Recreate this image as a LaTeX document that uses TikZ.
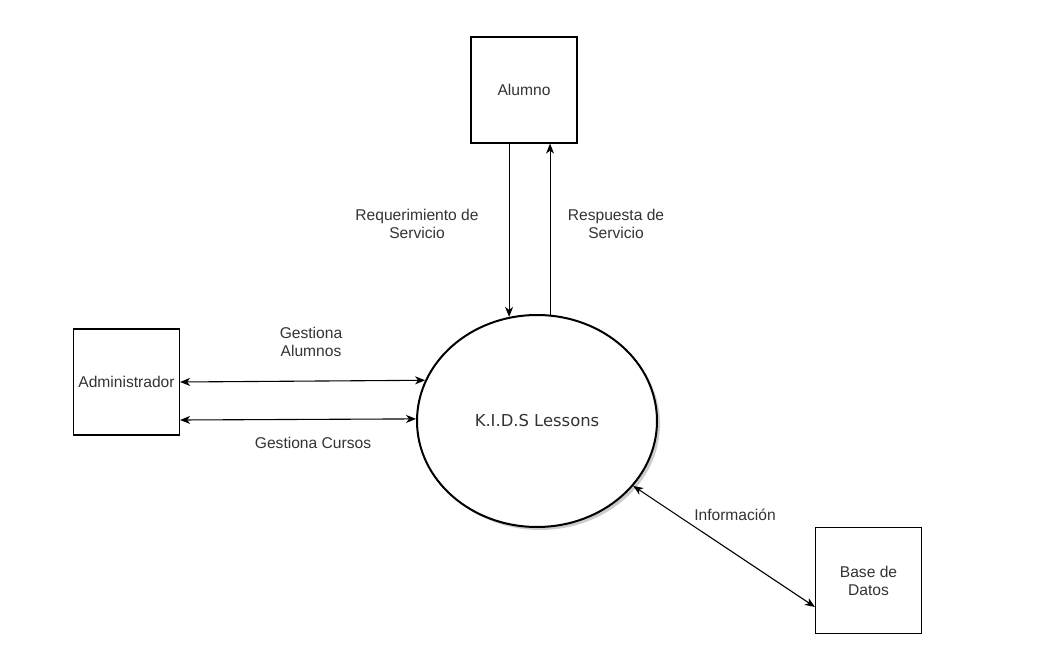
\documentclass[tikz,border=0pt]{standalone}
\usepackage{fontspec}
\setmainfont{Liberation Sans}
\newfontfamily\kidsfont{DejaVu Sans}
\usetikzlibrary{arrows.meta,calc,shapes.geometric}
\definecolor{txt}{HTML}{333333}
\tikzset{
  entity/.style={draw=black,line width=1.2pt,fill=white,minimum width=106pt,minimum height=106pt,inner sep=0pt,align=center,text=txt,font=\fontsize{15.6}{18}\selectfont},
  process/.style={draw=black,line width=2pt,fill=white,ellipse,minimum width=240pt,minimum height=212pt,inner sep=0pt,text=txt,font=\kidsfont\fontsize{16.4}{19}\selectfont},
  tip/.style={},
  flow/.style={line width=1.1pt,-{Stealth[length=10pt,width=8pt,inset=3pt]}},
  biflow/.style={line width=1.1pt,{Stealth[length=10pt,width=8pt,inset=3pt]}-{Stealth[length=10pt,width=8pt,inset=3pt]}},
  lbl/.style={align=center,text=txt,font=\fontsize{15.6}{18}\selectfont,inner sep=0pt}
}
\begin{document}
\begin{tikzpicture}[x=1pt,y=-1pt]
\useasboundingbox (0,0) rectangle (1045,655);
% shadow of the process
\fill[black,opacity=0.2] (540,424) ellipse [x radius=120, y radius=106];
\node[process] (kids) at (537,421) {K.I.D.S Lessons};
\node[entity] (alumno) at (524,90) {Alumno};
\node[entity] (admin) at (126.5,382) {Administrador};
\node[entity] (base) at (868.5,580.5) {Base de\\Datos};
% Alumno flows
\draw[flow] (alumno.south -| kids.105.2) -- (kids.105.2);
\draw[flow] (kids.83) -- (alumno.south -| kids.83);
% Administrador flows
\draw[biflow] (admin.east) -- (kids.160.7);
\path (admin.east) ++(0,38) coordinate (adminlow);
\draw[biflow] (adminlow) -- (kids.179.5);
% Base de datos flow
\path (base.west) ++(0,26.5) coordinate (dbin);
\draw[biflow] (kids.-34.9) -- (dbin);
% labels
\node[lbl] (lreq) at (417,224) {Requerimiento de\\Servicio};
\node[lbl] (lresp) at (616,224) {Respuesta de\\Servicio};
\node[lbl] (lga) at (311,342) {Gestiona\\Alumnos};
\node[lbl] (lgc) at (313,443) {Gestiona Cursos};
\node[lbl] (linfo) at (735,515) {Información};
\end{tikzpicture}
\end{document}
